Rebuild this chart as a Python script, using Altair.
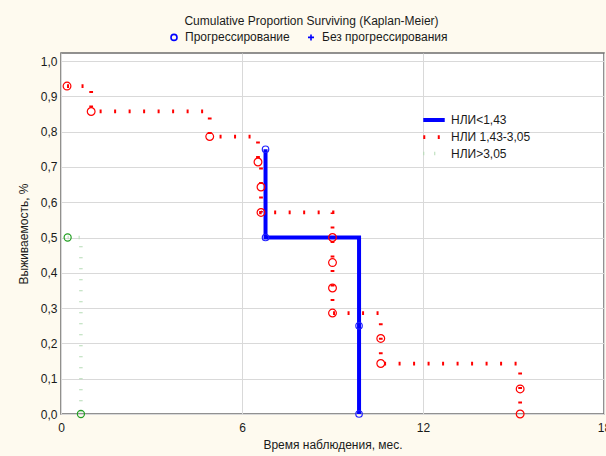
import altair as alt
import pandas as pd

# Kaplan-Meier steps
red_t = [0.2, 1.0, 4.93, 6.53, 6.63, 6.63, 9.0, 9.0, 9.0, 9.0, 10.6, 10.6, 15.22, 15.22]
red_s = [0.929, 0.857, 0.786, 0.714, 0.643, 0.571, 0.5, 0.429, 0.357, 0.286, 0.214, 0.143, 0.071, 0.0]
blue_t = [6.78, 6.78, 9.88, 9.88]
blue_s = [0.75, 0.5, 0.25, 0.0]
green_t = [0.22, 0.66]
green_s = [0.5, 0.0]

groups = ["НЛИ<1,43", "НЛИ 1,43-3,05", "НЛИ>3,05"]
colors = ["#0000ff", "#ff0000", "#b5dbb5"]
point_colors = ["#2222ff", "#ff0000", "#22a022"]
point_sizes = [42, 60, 50]
dashes = [[1, 0], [2, 12.5], [1, 10]]
widths = [4, 3.5, 3]
kinds = ["Прогрессирование", "Без прогрессирования"]

x_ticks = [0, 6, 12, 18]
y_ticks = [0.0, 0.1, 0.2, 0.3, 0.4, 0.5, 0.6, 0.7, 0.8, 0.9, 1.0]

rows = []
for g, ts, ss in [(groups[0], blue_t, blue_s), (groups[1], red_t, red_s), (groups[2], green_t, green_s)]:
    for i, (t, s) in enumerate(zip(ts, ss)):
        rows.append({"group": g, "t": t, "s": s, "i": i, "kind": kinds[0]})
df = pd.DataFrame(rows)

FONT = "Liberation Sans"

x = alt.X("t:Q", scale=alt.Scale(domain=[0, 18], nice=False, zero=False),
          axis=alt.Axis(values=x_ticks, title="Время наблюдения, мес.", grid=True,
                        ticks=False, tickSize=0, domain=False, labelPadding=8,
                        titlePadding=6, labelFlush=False))
y = alt.Y("s:Q", scale=alt.Scale(domain=[0, 1.0227], nice=False),
          axis=alt.Axis(values=y_ticks, title="Выживаемость, %", grid=True,
                        ticks=False, tickSize=0, domain=False, labelPadding=4,
                        titlePadding=10,
                        labelExpr="replace(format(datum.value, '.1f'), '.', ',')"))

line_legend = alt.Legend(orient="none", legendX=364, legendY=58, title=None,
                         symbolType="M-1.6,0L1.6,0", symbolSize=180,
                         labelOffset=8, rowPadding=0, labelFontSize=12,
                         labelFont=FONT, labelColor="#1a1a1a", padding=0)

lines = alt.Chart(df).mark_line(interpolate="step-after").encode(
    x=x, y=y, order="i:Q",
    color=alt.Color("group:N", scale=alt.Scale(domain=groups, range=colors), legend=line_legend),
    strokeDash=alt.StrokeDash("group:N", scale=alt.Scale(domain=groups, range=dashes), legend=line_legend),
    strokeWidth=alt.StrokeWidth("group:N", scale=alt.Scale(domain=groups, range=widths), legend=line_legend),
)

shape_legend = alt.Legend(orient="none", legendX=107, legendY=-22, title=None,
                          direction="horizontal", symbolSize=36,
                          symbolStrokeColor="#0000ff", symbolFillColor="transparent",
                          symbolStrokeWidth=1.6, labelOffset=5, columnPadding=14,
                          labelFontSize=12, labelFont=FONT, labelColor="#1a1a1a",
                          padding=0)

point_layers = []
for g, c, sz in zip(groups, point_colors, point_sizes):
    point_layers.append(
        alt.Chart(df).transform_filter(alt.datum.group == g)
        .mark_point(filled=False, size=sz, strokeWidth=1.2, opacity=1, color=c)
        .encode(
            x=x, y=y,
            shape=alt.Shape("kind:N",
                            scale=alt.Scale(domain=kinds, range=["circle", "M-1,0L1,0M0,-1L0,1"]),
                            legend=shape_legend),
        )
    )

chart = alt.layer(lines, *point_layers).properties(
    width=543, height=361,
    title=alt.TitleParams("Cumulative Proportion Surviving (Kaplan-Meier)", fontSize=12,
                          font=FONT, fontWeight="normal", color="#1a1a1a",
                          anchor="middle", dx=-21, dy=13, offset=11, baseline="middle"),
    autosize=alt.AutoSizeParams(type="none"),
    padding={"left": 61, "top": 53, "right": 2, "bottom": 42},
    background="#fefaef",
).configure_view(
    fill="white", stroke="#6e6e6e", strokeWidth=1.5
).configure_axis(
    gridColor="#d9d9d9", gridWidth=1, labelFont=FONT, titleFont=FONT,
    labelFontSize=12, titleFontSize=12, labelColor="#1a1a1a", titleColor="#1a1a1a",
    titleFontWeight="normal"
)

chart.save("out.html", embed_options={"renderer": "svg", "actions": False})
